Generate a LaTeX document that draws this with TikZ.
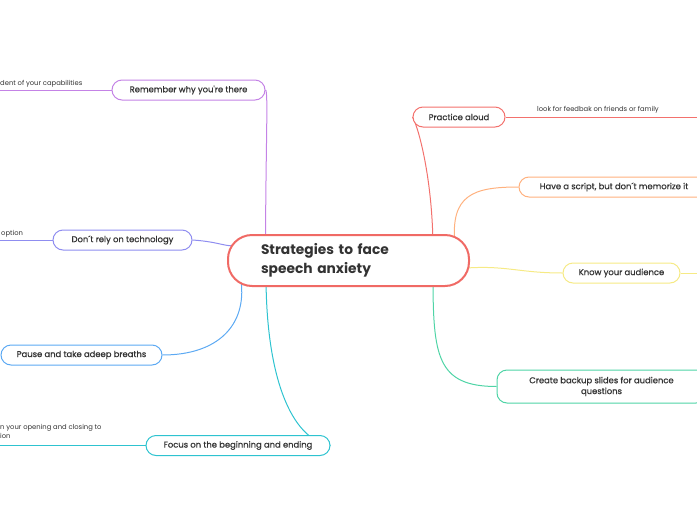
\documentclass[tikz,border=0pt]{standalone}
\usepackage{fontspec}
\setmainfont{Poppins}
\newfontfamily\topicfont[FakeBold=0.7]{Poppins}
\usetikzlibrary{backgrounds, calc}

\definecolor{textgray}{HTML}{333333}
\definecolor{rootred}{HTML}{F06A65}
\definecolor{rempurple}{HTML}{C483E6}
\definecolor{techlav}{HTML}{8F8DF0}
\definecolor{pauseblue}{HTML}{5CA9F3}
\definecolor{focuscyan}{HTML}{2EC3D0}
\definecolor{practred}{HTML}{F3716D}
\definecolor{scriptorange}{HTML}{FFB17E}
\definecolor{audyellow}{HTML}{F6EA85}
\definecolor{backupgreen}{HTML}{4FD4A6}

\begin{document}
\begin{tikzpicture}[
        x=1pt, y=-1pt,
        topic/.style={draw, rounded corners=10pt, fill=white, line width=1pt, minimum height=20pt,
            inner sep=0pt, text=textgray, font=\topicfont\fontsize{8.4}{10.8}\selectfont, align=center},
        root/.style={draw=rootred, rounded corners=24pt, fill=white, line width=2pt, minimum height=51pt,
            text width=175pt, inner xsep=33pt, align=left, text=textgray,
            font=\fontsize{13.8}{18.5}\selectfont\bfseries},
        note/.style={text=textgray, font=\fontsize{6.8}{9}\selectfont, inner sep=0pt, align=left},
        link/.style={line width=1pt},
    ]
    \useasboundingbox (0,0) rectangle (697,520);
    \clip (0,0) rectangle (697,520);

    % Central topic
    \node[root] (root) at (348.5,260.5) {Strategies to face\\speech anxiety};

    % Main topics, left side
    \node[topic, draw=rempurple, minimum width=153pt] (rem) at (188.5,90) {Remember why you're there};
    \node[topic, draw=techlav, minimum width=139pt] (tech) at (122.5,240) {Don´t rely on technology};
    \node[topic, draw=pauseblue, minimum width=161pt] (pause) at (81.5,355) {Pause and take adeep breaths};
    \node[topic, draw=focuscyan, minimum width=184pt] (focus) at (238,445.5) {Focus on the beginning and ending};

    % Main topics, right side
    \node[topic, draw=practred, minimum width=92pt] (pract) at (459,117) {Practice aloud};
    \node[topic, draw=scriptorange, minimum width=190pt] (script) at (614,187) {Have a script, but don´t memorize it};
    \node[topic, draw=audyellow, minimum width=117pt] (aud) at (621.5,273) {Know your audience};
    \node[topic, draw=backupgreen, minimum width=209pt, minimum height=33pt] (backup) at (601.5,386.5)
        {Create backup slides for audience\\questions};

    % Free ends of the subtopic lines
    \coordinate (rem-end) at (0,90);
    \coordinate (tech-end) at (0,240);
    \coordinate (focus-end) at (0,445.5);
    \coordinate (pract-end) at (697,117);
    \coordinate (aud-end) at (697,273);

    % Subtopic notes
    \node[note, anchor=base west] (rem-note) at (0,85.5) {dent of your capabilities};
    \node[note, anchor=base west] (tech-note) at (1,235) {option};
    \node[note, anchor=north west] (focus-note) at (0,424.5) {n your opening and closing to\\ion};
    \node[note, anchor=base] (pract-note) at (598,111.5) {look for feedbak on friends or family};

    \begin{scope}[on background layer]
        % Connect the central topic with every main topic
        \draw[link, rempurple] (rem.east) .. controls +(3,0) and +(0,-110) .. (rem.east |- root.center);
        \draw[link, techlav] (tech.east) .. controls +(30,2) and +(-12,4) .. ($(root.west)+(12,-16)$);
        \draw[link, pauseblue] (pause.east) .. controls +(55,0) and +(6,45) .. ($(root.west)+(14,20)$);
        \draw[link, focuscyan] (focus.east) .. controls +(-40,-6) and +(0,100) .. ($(root.west)+(39,15)$);
        \draw[link, practred] (pract.west) .. controls +(6,10) and +(0,-70) .. ($(root.east)+(-37,-10)$);
        \draw[link, scriptorange] (script.west) .. controls +(-45,0) and +(-5,-50) .. ($(root.east)+(-15,-16)$);
        \draw[link, audyellow] (aud.west) .. controls +(-45,0) and +(45,-4) .. ($(root.east)+(-10,8)$);
        \draw[link, backupgreen] (backup.west) .. controls +(-60,0) and +(0,80) .. ($(root.east)+(-37,15)$);

        % Lines to the notes
        \draw[link, rempurple] (rem.west) -- (rem-end);
        \draw[link, techlav] (tech.west) -- (tech-end);
        \draw[link, focuscyan] (focus.west) -- (focus-end);
        \draw[link, practred] (pract.east) -- (pract-end);
        \draw[link, audyellow] (aud.east) -- (aud-end);
    \end{scope}
\end{tikzpicture}
\end{document}
